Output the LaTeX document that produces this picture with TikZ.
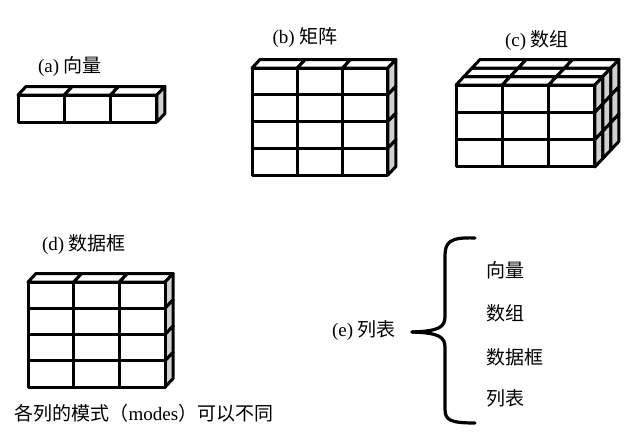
\documentclass[tikz,border=0pt]{standalone}
\usepackage{fontspec}
\setmainfont{Liberation Serif}
\newfontfamily\cjk{Noto Sans CJK SC}
\usetikzlibrary{calc}
\definecolor{sidegray}{RGB}{208,208,208}
\newcommand{\zh}[1]{{\cjk #1}}
\def\dX{8}\def\dY{8.5}
% #1,#2 front top-left, #3 cols, #4 rows, #5 layers, #6 cell width, #7 cell height
\newcommand{\drawcells}[7]{%
  \foreach \k in {1,...,#5}{
    \foreach \c in {1,...,#3}
      \draw[edge,fill=white] ({#1+(\c-1)*#6+(\k-1)*\dX},{#2-(\k-1)*\dY}) -- ++(#6,0) -- ++(\dX,-\dY) -- ++(-#6,0) -- cycle;
    \foreach \r in {1,...,#4}
      \draw[edge,fill=sidegray] ({#1+#3*#6+(\k-1)*\dX},{#2+(\r-1)*#7-(\k-1)*\dY}) -- ++(\dX,-\dY) -- ++(0,#7) -- ++(-\dX,\dY) -- cycle;}
  \foreach \c in {1,...,#3}
    \foreach \r in {1,...,#4}
      \draw[edge,fill=white] ({#1+(\c-1)*#6},{#2+(\r-1)*#7}) rectangle ++(#6,#7);}

\begin{document}
\begin{tikzpicture}[x=1pt,y=-1pt,
  edge/.style={line width=3pt,line join=round},
  bracel/.style={line width=3.2pt,line cap=round},
  lbl/.style={font=\fontsize{19}{22}\selectfont,inner sep=0pt}]
  \useasboundingbox (0,0) rectangle (637,442);
  % (a) vector
  \drawcells{18}{95}{3}{1}{1}{46.3}{27}
  \node[lbl] (la) at (70,67) {(a) \zh{向量}};
  % (b) matrix
  \drawcells{252}{68}{3}{4}{1}{45.3}{26.75}
  \node[lbl] (lb) at (305,38) {(b) \zh{矩阵}};
  % (c) array
  \drawcells{456}{85}{3}{3}{3}{46.3}{27.3}
  \node[lbl] (lc) at (537,41) {(c) \zh{数组}};
  % (d) data frame
  \drawcells{28}{282}{3}{4}{1}{45.7}{26.25}
  \node[lbl] (ld) at (84,245) {(d) \zh{数据框}};
  \node[lbl] (cap) at (144,413) {\zh{各列的模式（}modes\zh{）可以不同}};
  % (e) list
  \node[lbl] (le) at (364,331) {(e) \zh{列表}};
  \node[lbl,anchor=west] (e1) at (486,270) {\zh{向量}};
  \node[lbl,anchor=west] (e2) at (486,313) {\zh{数组}};
  \node[lbl,anchor=west] (e3) at (486,357) {\zh{数据框}};
  \node[lbl,anchor=west] (e4) at (486,398) {\zh{列表}};
  \coordinate (tip) at (412,332);
  \draw[bracel] (475,238) .. controls (450,237) and (445,242) .. (445,256) -- (445,316)
     .. controls (445,327) and (440,331) .. (tip);
  \draw[bracel] (tip) .. controls (440,333) and (445,337) .. (445,348) -- (445,409)
     .. controls (445,420) and (450,423) .. (475,423);
\end{tikzpicture}
\end{document}
